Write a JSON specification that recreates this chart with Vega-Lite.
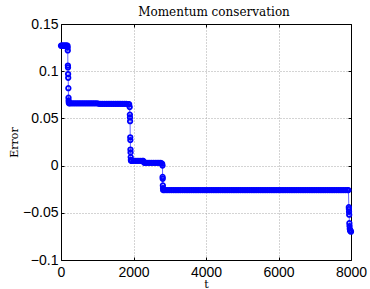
{
"$schema": "https://vega.github.io/schema/vega-lite/v6.json",
"width": 290, "height": 236,
"autosize": {"type": "none"},
"padding": {"left": 61, "top": 24, "right": 19, "bottom": 29},
"background": "white",
"config": {
  "view": {"stroke": null},
  "axis": {"domainColor": "black", "domainWidth": 1, "tickColor": "black", "tickSize": -3, "labelFont": "Liberation Sans", "labelFontSize": 14, "labelColor": "black", "labelFlush": false, "labelOverlap": false, "gridDash": [1, 2], "gridColor": "#a8a8a8", "gridOpacity": 1, "titleFont": "DejaVu Serif", "titleFontWeight": "normal", "titleFontSize": 11, "titleColor": "black"}
},
"title": {"text": "Momentum conservation", "font": "DejaVu Serif", "fontSize": 12, "fontWeight": "normal", "color": "black", "offset": -2, "dx": 8},
"data": {"values": [
{"t":0,"error":0.127},{"t":20,"error":0.127},{"t":40,"error":0.127},{"t":60,"error":0.127},{"t":80,"error":0.127},{"t":100,"error":0.127},{"t":120,"error":0.127},{"t":140,"error":0.127},{"t":160,"error":0.127},{"t":180,"error":0.127},
{"t":184,"error":0.125},{"t":187,"error":0.122},{"t":190,"error":0.106},{"t":193,"error":0.104},{"t":196,"error":0.097},{"t":199,"error":0.093},{"t":203,"error":0.082},{"t":207,"error":0.072},{"t":211,"error":0.069},{"t":215,"error":0.067},{"t":220,"error":0.066},
{"t":250,"error":0.066},{"t":300,"error":0.066},{"t":350,"error":0.066},{"t":400,"error":0.066},{"t":450,"error":0.066},{"t":500,"error":0.066},{"t":550,"error":0.066},{"t":600,"error":0.066},{"t":650,"error":0.066},{"t":700,"error":0.066},{"t":750,"error":0.066},{"t":800,"error":0.066},{"t":850,"error":0.066},{"t":900,"error":0.066},{"t":950,"error":0.066},{"t":1000,"error":0.066},
{"t":1050,"error":0.0655},{"t":1100,"error":0.0655},{"t":1150,"error":0.0655},{"t":1200,"error":0.0655},{"t":1250,"error":0.0655},{"t":1300,"error":0.0655},{"t":1350,"error":0.0655},{"t":1400,"error":0.0655},{"t":1450,"error":0.0655},{"t":1500,"error":0.0655},{"t":1550,"error":0.0655},{"t":1600,"error":0.0655},{"t":1650,"error":0.0655},{"t":1700,"error":0.0655},{"t":1750,"error":0.0655},{"t":1800,"error":0.0655},{"t":1850,"error":0.065},{"t":1880,"error":0.065},
{"t":1895,"error":0.062},{"t":1900,"error":0.054},{"t":1903,"error":0.051},{"t":1906,"error":0.047},{"t":1910,"error":0.030},{"t":1913,"error":0.027},{"t":1916,"error":0.017},{"t":1919,"error":0.014},{"t":1923,"error":0.009},{"t":1928,"error":0.006},{"t":1935,"error":0.005},
{"t":1950,"error":0.005},{"t":2000,"error":0.005},{"t":2050,"error":0.005},{"t":2100,"error":0.005},{"t":2150,"error":0.005},{"t":2200,"error":0.005},{"t":2250,"error":0.005},{"t":2270,"error":0.005},{"t":2290,"error":0.0035},
{"t":2300,"error":0.003},{"t":2350,"error":0.003},{"t":2400,"error":0.003},{"t":2450,"error":0.003},{"t":2500,"error":0.003},{"t":2550,"error":0.003},{"t":2600,"error":0.003},{"t":2650,"error":0.003},{"t":2700,"error":0.003},{"t":2750,"error":0.003},{"t":2790,"error":0.002},
{"t":2800,"error":0.000},{"t":2803,"error":-0.012},{"t":2806,"error":-0.014},{"t":2810,"error":-0.021},{"t":2814,"error":-0.024},{"t":2818,"error":-0.026},
{"t":2850,"error":-0.026},{"t":2900,"error":-0.026},{"t":2950,"error":-0.026},{"t":3000,"error":-0.026},{"t":3050,"error":-0.026},{"t":3100,"error":-0.026},{"t":3150,"error":-0.026},{"t":3200,"error":-0.026},{"t":3250,"error":-0.026},{"t":3300,"error":-0.026},{"t":3350,"error":-0.026},{"t":3400,"error":-0.026},{"t":3450,"error":-0.026},{"t":3500,"error":-0.026},{"t":3550,"error":-0.026},{"t":3600,"error":-0.026},{"t":3650,"error":-0.026},{"t":3700,"error":-0.026},{"t":3750,"error":-0.026},{"t":3800,"error":-0.026},{"t":3850,"error":-0.026},{"t":3900,"error":-0.026},{"t":3950,"error":-0.026},{"t":4000,"error":-0.026},{"t":4050,"error":-0.026},{"t":4100,"error":-0.026},{"t":4150,"error":-0.026},{"t":4200,"error":-0.026},{"t":4250,"error":-0.026},{"t":4300,"error":-0.026},{"t":4350,"error":-0.026},{"t":4400,"error":-0.026},{"t":4450,"error":-0.026},{"t":4500,"error":-0.026},{"t":4550,"error":-0.026},{"t":4600,"error":-0.026},{"t":4650,"error":-0.026},{"t":4700,"error":-0.026},{"t":4750,"error":-0.026},{"t":4800,"error":-0.026},{"t":4850,"error":-0.026},{"t":4900,"error":-0.026},{"t":4950,"error":-0.026},{"t":5000,"error":-0.026},{"t":5050,"error":-0.026},{"t":5100,"error":-0.026},{"t":5150,"error":-0.026},{"t":5200,"error":-0.026},{"t":5250,"error":-0.026},{"t":5300,"error":-0.026},{"t":5350,"error":-0.026},{"t":5400,"error":-0.026},{"t":5450,"error":-0.026},{"t":5500,"error":-0.026},{"t":5550,"error":-0.026},{"t":5600,"error":-0.026},{"t":5650,"error":-0.026},{"t":5700,"error":-0.026},{"t":5750,"error":-0.026},{"t":5800,"error":-0.026},{"t":5850,"error":-0.026},{"t":5900,"error":-0.026},{"t":5950,"error":-0.026},{"t":6000,"error":-0.026},{"t":6050,"error":-0.026},{"t":6100,"error":-0.026},{"t":6150,"error":-0.026},{"t":6200,"error":-0.026},{"t":6250,"error":-0.026},{"t":6300,"error":-0.026},{"t":6350,"error":-0.026},{"t":6400,"error":-0.026},{"t":6450,"error":-0.026},{"t":6500,"error":-0.026},{"t":6550,"error":-0.026},{"t":6600,"error":-0.026},{"t":6650,"error":-0.026},{"t":6700,"error":-0.026},{"t":6750,"error":-0.026},{"t":6800,"error":-0.026},{"t":6850,"error":-0.026},{"t":6900,"error":-0.026},{"t":6950,"error":-0.026},{"t":7000,"error":-0.026},{"t":7050,"error":-0.026},{"t":7100,"error":-0.026},{"t":7150,"error":-0.026},{"t":7200,"error":-0.026},{"t":7250,"error":-0.026},{"t":7300,"error":-0.026},{"t":7350,"error":-0.026},{"t":7400,"error":-0.026},{"t":7450,"error":-0.026},{"t":7500,"error":-0.026},{"t":7550,"error":-0.026},{"t":7600,"error":-0.026},{"t":7650,"error":-0.026},{"t":7700,"error":-0.026},{"t":7750,"error":-0.026},{"t":7800,"error":-0.026},{"t":7850,"error":-0.026},{"t":7900,"error":-0.026},{"t":7930,"error":-0.026},
{"t":7940,"error":-0.044},{"t":7943,"error":-0.046},{"t":7946,"error":-0.049},{"t":7950,"error":-0.052},{"t":7955,"error":-0.061},{"t":7960,"error":-0.064},{"t":7966,"error":-0.067},{"t":7975,"error":-0.069},{"t":7990,"error":-0.069},{"t":8000,"error":-0.070}
]},
"resolve": {"axis": {"x": "independent", "y": "independent"}},
"layer": [
  {"mark": {"type": "line", "color": "#0000ff", "strokeWidth": 1, "opacity": 0.6},
   "encoding": {
     "x": {"field": "t", "type": "quantitative", "scale": {"domain": [0, 8000], "nice": false}, "axis": {"orient": "bottom", "values": [0, 2000, 4000, 6000, 8000], "format": "d", "title": "t", "labelPadding": 8, "titlePadding": -1, "grid": true}},
     "y": {"field": "error", "type": "quantitative", "scale": {"domain": [-0.1, 0.15], "nice": false}, "axis": {"orient": "left", "values": [-0.1, -0.05, 0, 0.05, 0.1, 0.15], "format": ".2~g", "title": "Error", "labelPadding": 6, "titlePadding": 3, "grid": true}}
   }},
  {"mark": {"type": "point", "shape": "circle", "filled": false, "color": "#0000ff", "size": 20, "strokeWidth": 1.8, "opacity": 1},
   "encoding": {
     "x": {"field": "t", "type": "quantitative", "scale": {"domain": [0, 8000], "nice": false}, "axis": {"orient": "top", "values": [0, 2000, 4000, 6000, 8000], "labels": false, "title": null, "grid": false, "minExtent": 0, "maxExtent": 0}},
     "y": {"field": "error", "type": "quantitative", "scale": {"domain": [-0.1, 0.15], "nice": false}, "axis": {"orient": "right", "values": [-0.1, -0.05, 0, 0.05, 0.1, 0.15], "labels": false, "title": null, "grid": false, "minExtent": 0, "maxExtent": 0}}
   }}
]
}
